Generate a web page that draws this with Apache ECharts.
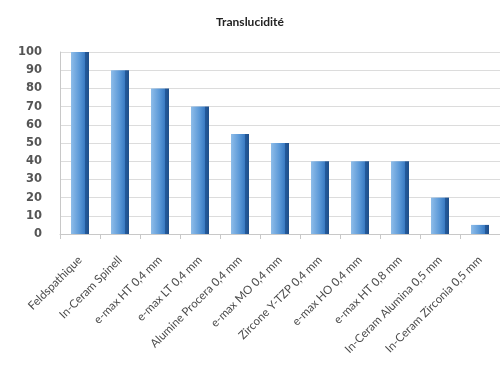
<!DOCTYPE html>
<html>
<head>
<meta charset="utf-8">
<script src="https://cdn.jsdelivr.net/npm/echarts@6/dist/echarts.min.js"></script>
<style>
  html, body { margin: 0; padding: 0; background: #fff; }
  #chart { width: 500px; height: 373px; }
</style>
</head>
<body>
<div id="chart"></div>
<script>
const categories = [
    'Feldspathique', 'In-Ceram Spinell', 'e-max HT 0,4 mm', 'e-max LT 0,4 mm',
    'Alumine Procera 0,4 mm', 'e-max MO 0,4 mm', 'Zircone Y-TZP 0,4 mm',
    'e-max HO 0,4 mm', 'e-max HT 0,8 mm', 'In-Ceram Alumina 0,5 mm',
    'In-Ceram Zirconia 0,5 mm'
];
const translucidite = [100, 90, 80, 70, 55, 50, 40, 40, 40, 20, 5];
const yTicks = { min: 0, max: 100, interval: 10 };

// fake 3D look: light front face, dark side strip
const barColor = new echarts.graphic.LinearGradient(0, 0, 1, 0, [
    { offset: 0, color: '#8fbde9' },
    { offset: 0.45, color: '#5d9ad8' },
    { offset: 0.76, color: '#3b7cc4' },
    { offset: 0.78, color: '#245a9c' },
    { offset: 1, color: '#1f4f8a' }
]);

const option = {
    animation: false,
    title: {
        text: 'Translucidité',
        left: 'center',
        top: 11,
        textStyle: {
            fontFamily: 'Lato',
            fontSize: 12,
            fontWeight: 'bold',
            color: '#222'
        }
    },
    grid: {
        left: 60,
        right: 0,
        top: 52,
        bottom: 139
    },
    xAxis: {
        type: 'category',
        data: categories,
        axisLine: { lineStyle: { color: '#c8c8c8' } },
        axisTick: { show: true, lineStyle: { color: '#c8c8c8' } },
        axisLabel: {
            interval: 0,
            rotate: 45,
            margin: 24,
            fontFamily: 'Lato',
            fontSize: 11.5,
            color: '#4a4a4a'
        }
    },
    yAxis: {
        type: 'value',
        min: yTicks.min,
        max: yTicks.max,
        interval: yTicks.interval,
        axisLine: { show: true, lineStyle: { color: '#c8c8c8' } },
        axisTick: { show: false },
        splitLine: { lineStyle: { color: '#dcdcdc' } },
        axisLabel: {
            margin: 18,
            fontFamily: 'DejaVu Sans',
            fontSize: 11.5,
            fontWeight: 'bold',
            color: '#555'
        }
    },
    series: [
        {
            name: 'Translucidité',
            type: 'bar',
            barWidth: 18,
            data: translucidite,
            itemStyle: {
                color: barColor
            }
        }
    ]
};

const chart = echarts.init(document.getElementById('chart'));
chart.setOption(option);
</script>
</body>
</html>
